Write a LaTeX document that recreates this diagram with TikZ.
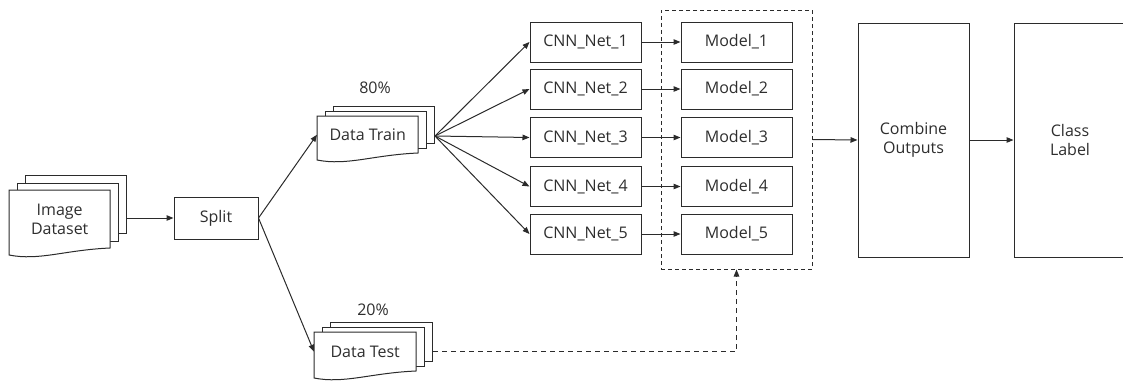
\documentclass[tikz,border=0pt]{standalone}
\usepackage{fontspec}
\setmainfont{Open Sans}
\usetikzlibrary{arrows.meta,calc}
\definecolor{ln}{HTML}{2B2B2B}
\definecolor{tx}{HTML}{2E2E2E}
\tikzset{
  docline/.style={draw=ln,line width=1pt,fill=white},
  box/.style={draw=ln,line width=1pt,fill=white,inner sep=0pt,font=\fontsize{16}{19.5}\selectfont,text=tx,align=center},
  lbl/.style={inner sep=0pt,font=\fontsize{16}{19.5}\selectfont,text=tx,align=center},
  arr/.style={draw=ln,line width=1pt,-{Triangle[length=7pt,width=5.5pt]}},
  darr/.style={arr,dash pattern=on 5pt off 4pt},
}
% #1 name, #2 x, #3 y (front top-left), #4 w, #5 h, #6 dx, #7 dy, #8 text
\newcommand\mdoc[8]{%
  \node[docline,minimum width=#4pt,minimum height=#5pt,anchor=north west,inner sep=0pt] (#1b) at (#2+2*#6,#3-2*#7) {};
  \node[docline,minimum width=#4pt,minimum height=#5pt,anchor=north west,inner sep=0pt] (#1m) at (#2+#6,#3-#7) {};
  \draw[docline] (#2,#3) -- (#2+#4,#3) -- (#2+#4,#3+#5)
     .. controls (#2+0.55*#4,#3+#5+2) and (#2+0.3*#4,#3+#5+13) .. (#2,#3+#5+7) -- cycle;
  \node[lbl,minimum width=#4pt,minimum height=#5pt,anchor=north west] (#1) at (#2,#3) {#8};
}
\begin{document}
\begin{tikzpicture}[x=1pt,y=-1pt]
\useasboundingbox (0,0) rectangle (1123,380);
% multi-documents
\mdoc{img}{9}{190}{101}{58}{8}{7.5}{Image\\Dataset}
\mdoc{train}{317}{116}{101}{37}{8}{5}{Data Train}
\mdoc{test}{314}{332}{102}{39}{8}{5}{Data Test}
\node[lbl] (p80) at (375,88) {80\%};
\node[lbl] (p20) at (373,310) {20\%};
% split
\node[box,minimum width=84pt,minimum height=42pt] (split) at (216,218) {Split};
% CNN and models
\foreach \i/\y in {1/42,2/89,3/137.5,4/186.5,5/234}{
  \node[box,minimum width=111pt,minimum height=40pt] (cnn\i) at (585.5,\y) {CNN\_Net\_\i};
  \node[box,minimum width=111pt,minimum height=40pt] (mod\i) at (736.5,\y) {Model\_\i};
}
% ensemble dashed box
\node[draw=ln,line width=1pt,dash pattern=on 4pt off 3pt,minimum width=151pt,minimum height=259pt,inner sep=0pt] (ens) at (736.5,139.5) {};
% combine and class
\node[box,minimum width=111pt,minimum height=234pt] (comb) at (913.5,140) {Combine\\Outputs};
\node[box,minimum width=120pt,minimum height=234pt] (cls) at (1074,140) {};
\node[lbl] (clstxt) at (1070,140) {Class\\Label};
% connectors
\draw[arr] (split.west -| imgb.east) -- (split.west);
\draw[arr] (split.east) -- (train.west);
\draw[arr] (split.east) -- (test.west);
\coordinate (fan) at ($(trainb.east)+(0,11)$);
\foreach \i in {1,...,5}{
  \draw[arr] (fan) -- (cnn\i.west);
  \draw[arr] (cnn\i.east) -- (mod\i.west);
}
\draw[darr] (test.east -| testb.east) -| (ens.south);
\draw[arr] (ens.east) -- (comb.west);
\draw[arr] (comb.east) -- (cls.west);
\end{tikzpicture}
\end{document}
